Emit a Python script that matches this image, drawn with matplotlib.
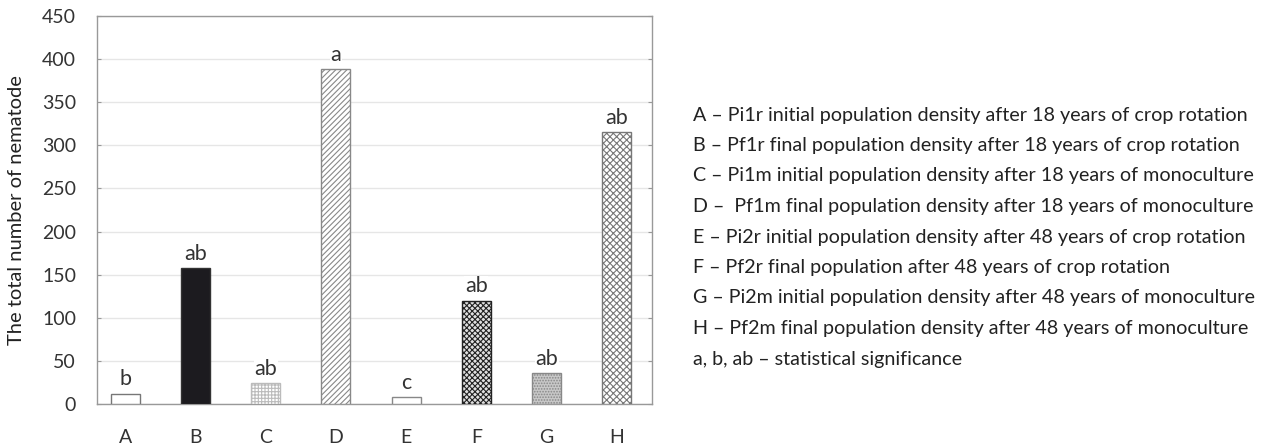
import numpy as np
import matplotlib.pyplot as plt

plt.rcParams['font.family'] = ['Lato', 'DejaVu Sans']
plt.rcParams['hatch.linewidth'] = 0.8

groups = ["A", "B", "C", "D", "E", "F", "G", "H"]
counts = [12, 158, 24, 388, 8, 120, 36, 315]
letters = ["b", "ab", "ab", "a", "c", "ab", "ab", "ab"]

legend_lines = [
    "A \u2013 Pi1r initial population density after 18 years of crop rotation",
    "B \u2013 Pf1r final population density after 18 years of crop rotation",
    "C \u2013 Pi1m initial population density after 18 years of monoculture",
    "D \u2013  Pf1m final population density after 18 years of monoculture",
    "E \u2013 Pi2r initial population density after 48 years of crop rotation",
    "F \u2013 Pf2r final population after 48 years of crop rotation",
    "G \u2013 Pi2m initial population density after 48 years of monoculture",
    "H \u2013 Pf2m final population density after 48 years of monoculture",
    "a, b, ab \u2013 statistical significance",
]

# bar styles (face, hatch, hatch/edge colour)
styles = [
    ("white", "-", "#777777"),
    ("#1c1b1f", "", "#333333"),
    ("white", "+++++", "#bbbbbb"),
    ("white", "//////", "#888888"),
    ("white", "", "#888888"),
    ("#e0e0e0", "xxxxxx", "#222222"),
    ("#c8c8c8", "......", "#888888"),
    ("white", "xxxxx", "#777777"),
]

fig = plt.figure(figsize=(12.65, 4.45), dpi=100)
ax = fig.add_axes([97 / 1265, 1 - 404 / 445, (652 - 97) / 1265, (404 - 16) / 445])

x = np.arange(len(groups))
for i in range(len(groups)):
    face, hatch, col = styles[i]
    ax.bar(x[i], counts[i], width=0.41, facecolor=face, hatch=hatch,
           edgecolor=col, linewidth=1.0, zorder=3)
    ax.annotate(letters[i], (x[i], counts[i]), xytext=(0, 3), textcoords="offset points",
                ha="center", va="bottom", fontsize=15.5, color="#333333", zorder=4,
                bbox=dict(facecolor="white", edgecolor="none", pad=0.5))

ax.set_xlim(-0.4, 7.5)
ax.set_ylim(0, 450)
ax.set_yticks(np.arange(0, 451, 50))
ax.set_xticks(x)
ax.set_xticklabels(groups)
ax.yaxis.grid(True, color="#e6e6e6", linewidth=1.0, zorder=0)
ax.set_axisbelow(True)
for s in ax.spines.values():
    s.set_color("#999999")
    s.set_linewidth(1.0)
ax.tick_params(axis="y", direction="in", length=3, color="#999999", right=True,
               labelsize=14, labelcolor="#333333", pad=15)
ax.tick_params(axis="x", length=0, labelsize=14, labelcolor="#333333", pad=18)
ax.set_ylabel("The total number of nematode", fontsize=14.5, color="#222222", labelpad=12)

y0 = 115
for k, line in enumerate(legend_lines):
    fig.text(693 / 1265, 1 - (y0 + k * 30.5) / 445, line, fontsize=14.2,
             color="#222222", va="center", ha="left")

fig.savefig("out.png", dpi=100, facecolor="white")
